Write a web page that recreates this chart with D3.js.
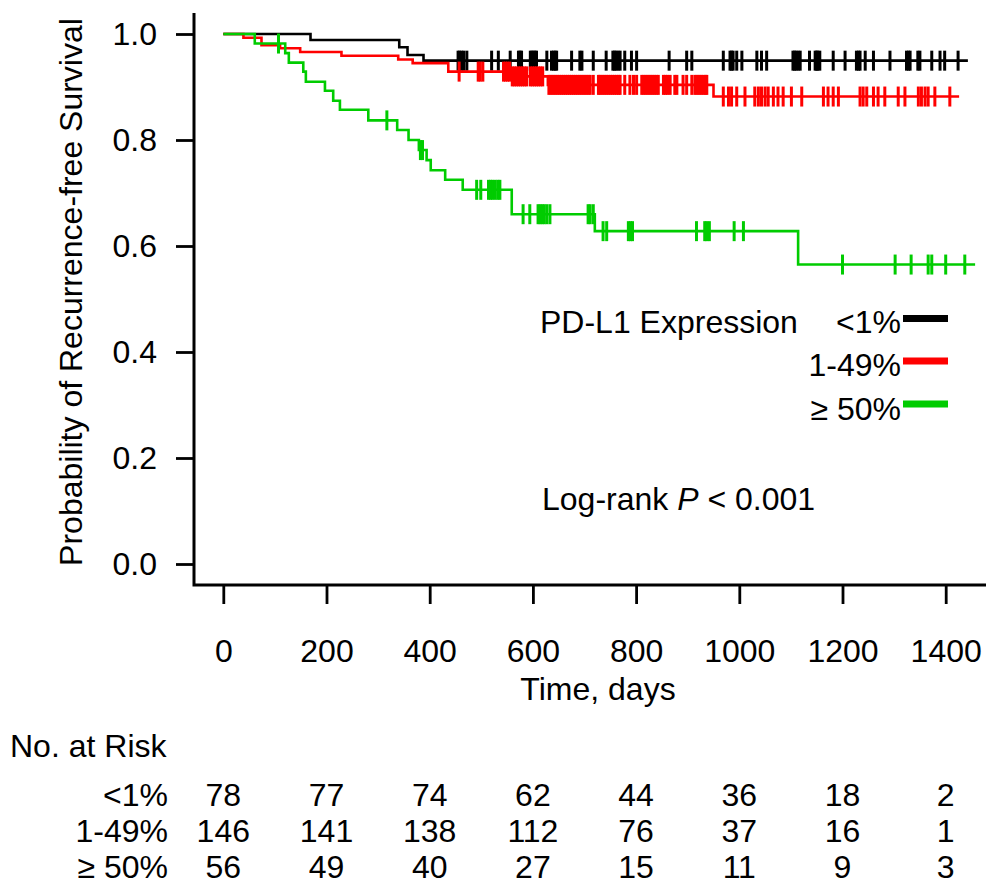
<!DOCTYPE html>
<html>
<head>
<meta charset="utf-8">
<script src="https://cdn.jsdelivr.net/npm/d3@7"></script>
<style>
  html, body { margin: 0; padding: 0; background: #fff; }
  svg { display: block; }
  text { font-family: "Liberation Sans", Arial, Helvetica, sans-serif; font-size: 32px; fill: #000; }
</style>
</head>
<body>
<svg id="chart" width="986" height="886"></svg>
<script>
// ---------------- data ----------------
const groups = ["<1%", "1-49%", "\u2265 50%"];
const colors = ["#000000", "#ff0000", "#00cc00"];

// Kaplan-Meier step times (days) and survival just after each step
const lowTimes = [0, 169, 341, 357, 388];
const lowSurv  = [1.0, 0.9887, 0.975, 0.9604, 0.9497];
const lowEnd = 1443;
const lowCensor = [455, 458, 462, 466, 472, 520, 533, 556, 572, 575, 578, 595, 598, 601, 604, 607,
  627, 636, 640, 643, 646, 675, 691, 695, 717, 742, 755, 758, 761, 765, 769, 778, 791, 801, 864,
  898, 908, 969, 982, 985, 988, 995, 1005, 1034, 1043, 1053, 1104, 1107, 1110, 1114, 1118, 1136,
  1147, 1150, 1152, 1156, 1182, 1205, 1227, 1231, 1234, 1244, 1260, 1292, 1324, 1328, 1331, 1346,
  1350, 1373, 1389, 1398, 1424];

const midTimes = [0, 39, 74, 110, 149, 229, 339, 367, 436, 556, 629, 950];
const midSurv  = [1.0, 0.993, 0.979, 0.973, 0.966, 0.959, 0.952, 0.945, 0.929, 0.920, 0.904, 0.882];
const midEnd = 1426;
const midCensor = [457, 494, 498, 503, 543, 547, 551, 555, 560, 564, 568, 572, 576, 580, 584, 588,
  595, 599, 603, 607, 611, 615, 619, 631, 635, 639, 643, 647, 651, 655, 659, 663, 667, 671, 675,
  679, 683, 687, 691, 695, 699, 703, 707, 711, 717, 727, 730, 734, 738, 742, 746, 750, 754, 758,
  762, 766, 769, 778, 788, 795, 801, 811, 815, 819, 823, 827, 831, 835, 839, 843, 853, 857, 861,
  866, 875, 879, 891, 898, 908, 914, 918, 922, 926, 930, 934, 937, 969, 979, 985, 995, 1011, 1030,
  1037, 1043, 1050, 1056, 1066, 1075, 1085, 1101, 1121, 1163, 1172, 1182, 1192, 1234, 1240, 1247,
  1260, 1269, 1282, 1308, 1321, 1347, 1353, 1360, 1366, 1379, 1408];

const highTimes = [0, 61, 120, 127, 155, 160, 197, 213, 226, 281, 337, 359, 379, 394, 402, 430, 464, 559, 720, 1114];
const highSurv  = [1.0, 0.982, 0.964, 0.946, 0.929, 0.910, 0.893, 0.874, 0.857, 0.837, 0.819, 0.800,
  0.781, 0.762, 0.743, 0.725, 0.706, 0.660, 0.628, 0.565];
const highEnd = 1457;
const highCensor = [107, 317, 382, 386, 491, 499, 514, 518, 522, 527, 532, 536, 581, 594, 610, 614,
  618, 622, 627, 633, 707, 711, 717, 736, 743, 785, 789, 793, 917, 933, 937, 942, 990, 1008, 1200,
  1302, 1333, 1366, 1373, 1400, 1437];

// axis ticks
const xTicks = [0, 200, 400, 600, 800, 1000, 1200, 1400];
const yTicks = [0.0, 0.2, 0.4, 0.6, 0.8, 1.0];

// numbers at risk at each x tick
const riskLow  = [78, 77, 74, 62, 44, 36, 18, 2];
const riskMid  = [146, 141, 138, 112, 76, 37, 16, 1];
const riskHigh = [56, 49, 40, 27, 15, 11, 9, 3];

// ---------------- drawing ----------------
const svg = d3.select("#chart");
const x = d3.scaleLinear().domain([0, 1400]).range([223.3, 945.7]);
const y = d3.scaleLinear().domain([0, 1]).range([564, 34]);

const series = [
  {times: lowTimes, surv: lowSurv, end: lowEnd, censor: lowCensor, color: colors[0]},
  {times: midTimes, surv: midSurv, end: midEnd, censor: midCensor, color: colors[1]},
  {times: highTimes, surv: highSurv, end: highEnd, censor: highCensor, color: colors[2]}
];

// axes
const yAxis = d3.axisLeft(y).tickValues(yTicks).tickSize(18).tickPadding(19).tickFormat(d3.format(".1f"));
const gy = svg.append("g").attr("transform", "translate(194,0)").call(yAxis);
gy.select(".domain").remove();
gy.selectAll(".tick line").attr("stroke", "#000").attr("stroke-width", 2.8);
gy.selectAll(".tick text").attr("font-size", 32).attr("font-family", null);

const xAxis = d3.axisBottom(x).tickValues(xTicks).tickSize(19).tickPadding(35).tickFormat(d3.format("d"));
const gx = svg.append("g").attr("transform", "translate(0,585)").call(xAxis);
gx.select(".domain").remove();
gx.selectAll(".tick line").attr("stroke", "#000").attr("stroke-width", 2.8);
gx.selectAll(".tick text").attr("font-size", 32).attr("font-family", null);

// axis lines (L frame)
svg.append("path")
  .attr("d", "M194,13 L194,585 L986,585")
  .attr("fill", "none").attr("stroke", "#000").attr("stroke-width", 3);

// curves
const line = d3.line().x(d => x(d[0])).y(d => y(d[1])).curve(d3.curveStepAfter);
function survAt(s, t) {
  let v = s.surv[0];
  for (let i = 0; i < s.times.length; i++) if (s.times[i] <= t) v = s.surv[i];
  return v;
}
series.forEach(s => {
  const pts = s.times.map((t, i) => [t, s.surv[i]]);
  pts.push([s.end, s.surv[s.surv.length - 1]]);
  const g = svg.append("g");
  g.append("path").attr("d", line(pts)).attr("fill", "none")
    .attr("stroke", s.color).attr("stroke-width", 2.6);
  g.selectAll("line.c").data(s.censor).enter().append("line")
    .attr("x1", d => x(d)).attr("x2", d => x(d))
    .attr("y1", d => y(survAt(s, d)) - 10).attr("y2", d => y(survAt(s, d)) + 10)
    .attr("stroke", s.color).attr("stroke-width", 3);
});

// axis titles
svg.append("text").attr("transform", "translate(82,292) rotate(-90)")
  .attr("text-anchor", "middle").text("Probability of Recurrence-free Survival");
svg.append("text").attr("x", 598).attr("y", 700).attr("text-anchor", "middle").text("Time, days");

// legend
svg.append("text").attr("x", 540).attr("y", 333).text("PD-L1 Expression");
const legY = [333, 376, 420];
const lineY = [318.5, 361, 404];
groups.forEach((gname, i) => {
  svg.append("text").attr("x", 901).attr("y", legY[i]).attr("text-anchor", "end").text(gname);
  svg.append("line").attr("x1", 903).attr("x2", 948).attr("y1", lineY[i]).attr("y2", lineY[i])
    .attr("stroke", colors[i]).attr("stroke-width", 7);
});

// log-rank
const lr = svg.append("text").attr("x", 542).attr("y", 510);
lr.append("tspan").text("Log-rank ");
lr.append("tspan").attr("font-style", "italic").text("P");
lr.append("tspan").text(" < 0.001");

// numbers at risk
svg.append("text").attr("x", 10).attr("y", 757).text("No. at Risk");
const riskRows = [riskLow, riskMid, riskHigh];
const rowY = [806, 842, 878];
riskRows.forEach((row, i) => {
  svg.append("text").attr("x", 168).attr("y", rowY[i]).attr("text-anchor", "end").text(groups[i]);
  svg.selectAll(null).data(row).enter().append("text")
    .attr("x", (d, j) => x(xTicks[j])).attr("y", rowY[i])
    .attr("text-anchor", "middle").text(d => d);
});
</script>
</body>
</html>
